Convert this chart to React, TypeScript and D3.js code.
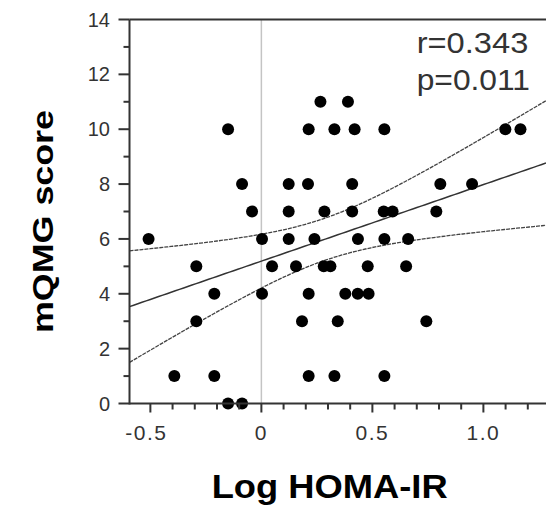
import React from 'react';
import * as d3 from 'd3';

// Log HOMA-IR (x) and mQMG score (y)
const logHoma = [
  0.266, 0.39,
  -0.15, 0.213, 0.329, 0.42, 0.554, 1.099, 1.167,
  -0.087, 0.123, 0.21, 0.409, 0.806, 0.949,
  -0.042, 0.123, 0.284, 0.409, 0.551, 0.591, 0.788,
  -0.508, 0.003, 0.123, 0.239, 0.435, 0.554, 0.661,
  -0.293, 0.048, 0.156, 0.281, 0.311, 0.479, 0.652,
  -0.212, 0.003, 0.213, 0.378, 0.434, 0.483,
  -0.293, 0.183, 0.344, 0.743,
  -0.392, -0.212, 0.213, 0.329, 0.554,
  -0.15, -0.087,
];
const mqmgScore = [
  11, 11,
  10, 10, 10, 10, 10, 10, 10,
  8, 8, 8, 8, 8, 8,
  7, 7, 7, 7, 7, 7, 7,
  6, 6, 6, 6, 6, 6, 6,
  5, 5, 5, 5, 5, 5, 5,
  4, 4, 4, 4, 4, 4,
  3, 3, 3, 3,
  1, 1, 1, 1, 1,
  0, 0,
];
// regression line as drawn in the reference (intercept, slope)
const fitCoefficients = [5.19, 2.79];
const xMajorTicks = [-0.5, 0, 0.5, 1.0];
const xTickLabels = ['-0.5', '0', '0.5', '1.0'];
const xMinorTicks = [-0.5, -0.4, -0.3, -0.2, -0.1, 0, 0.1, 0.2, 0.3, 0.4, 0.5, 0.6, 0.7, 0.8, 0.9, 1.0, 1.1, 1.2];
const yMajorTicks = [0, 2, 4, 6, 8, 10, 12, 14];
const yMinorTicks = [1, 3, 5, 7, 9, 11, 13];
const statLabels = ['r=0.343', 'p=0.011'];
const xTitle = 'Log HOMA-IR';
const yTitle = 'mQMG score';

const W = 546;
const H = 510;
const X0 = 129.5;
const Y0 = 403.5;
const YTOP = 19.5;

export default function App() {
  const x = d3.scaleLinear().domain([-0.594, 1.282]).range([X0, W]);
  const y = d3.scaleLinear().domain([0, 14]).range([Y0, YTOP]);

  // 95% confidence band around the regression line
  const n = logHoma.length;
  const mx = d3.mean(logHoma) as number;
  let sxx = 0;
  for (let i = 0; i < n; i++) sxx += (logHoma[i] - mx) ** 2;
  const [b0, b1] = fitCoefficients;
  const fit = (v: number) => b0 + b1 * v;
  let sse = 0;
  for (let i = 0; i < n; i++) sse += (mqmgScore[i] - fit(logHoma[i])) ** 2;
  const s = Math.sqrt(sse / (n - 2));
  const tcrit = 2.008;
  const half = (v: number) => tcrit * s * Math.sqrt(1 / n + (v - mx) ** 2 / sxx);
  const xs = d3.range(0, 101).map((i) => -0.594 + (i / 100) * (1.282 + 0.594));
  const line = d3.line<[number, number]>().x((d) => x(d[0])).y((d) => y(d[1]));
  const mid = line(xs.map((v) => [v, fit(v)]));
  const upper = line(xs.map((v) => [v, fit(v) + half(v)]));
  const lower = line(xs.map((v) => [v, fit(v) - half(v)]));

  const font = 'Arial, "Liberation Sans", Helvetica, sans-serif';

  return (
    <svg width={W} height={H} style={{ position: 'absolute', left: 0, top: 0 }}>
      <defs>
        <clipPath id="plot">
          <rect x={X0} y={YTOP} width={W - X0} height={Y0 - YTOP} />
        </clipPath>
      </defs>
      <rect width={W} height={H} fill="#fff" />
      {/* zero reference line */}
      <line x1={x(0)} x2={x(0)} y1={YTOP} y2={Y0} stroke="#c4c4c4" strokeWidth={1.5} />
      {/* regression and CI */}
      <g clipPath="url(#plot)" fill="none">
        <path d={upper || ''} stroke="#444" strokeWidth={1.3} strokeDasharray="4,1" />
        <path d={lower || ''} stroke="#444" strokeWidth={1.3} strokeDasharray="4,1" />
        <path d={mid || ''} stroke="#333" strokeWidth={1.5} />
      </g>
      {/* points */}
      <g>
        {logHoma.map((v, i) => (
          <circle key={i} cx={x(v)} cy={y(mqmgScore[i])} r={6} fill="#000" />
        ))}
      </g>
      {/* axes */}
      <g stroke="#333" strokeWidth={2}>
        <line x1={X0} x2={X0} y1={YTOP} y2={Y0 + 1} />
        <line x1={X0} x2={W} y1={Y0} y2={Y0} />
        <line x1={X0} x2={W} y1={YTOP} y2={YTOP} />
        {yMajorTicks.map((t) => (
          <line key={'ym' + t} x1={X0 - 11} x2={X0} y1={y(t)} y2={y(t)} />
        ))}
        {yMinorTicks.map((t) => (
          <line key={'yn' + t} x1={X0 - 6} x2={X0} y1={y(t)} y2={y(t)} />
        ))}
        {xMinorTicks.map((t) => (
          <line key={'xn' + t} x1={x(t)} x2={x(t)} y1={Y0} y2={Y0 + (xMajorTicks.some((m) => Math.abs(m - t) < 1e-9) ? 9 : 6)} />
        ))}
      </g>
      <g fontFamily={font} fontSize={20} fill="#333" textAnchor="end">
        {yMajorTicks.map((t) => (
          <text key={'yl' + t} x={110} y={y(t) + 7}>{t}</text>
        ))}
      </g>
      <g fontFamily={font} fontSize={21} fill="#333" textAnchor="middle" letterSpacing={1.5}>
        {xMajorTicks.map((t, i) => (
          <text key={'xl' + t} x={x(t) - (t < 0 ? 4 : 0)} y={440}>{xTickLabels[i]}</text>
        ))}
      </g>
      <g fontFamily={font} fontSize={30} fill="#333">
        <text x={416.7} y={53.3} textLength={111.6} lengthAdjust="spacingAndGlyphs">{statLabels[0]}</text>
        <text x={416.7} y={89.5} textLength={113.3} lengthAdjust="spacingAndGlyphs">{statLabels[1]}</text>
      </g>
      <text x={211.7} y={498.3} fontFamily={font} fontSize={32.5} fontWeight="bold" fill="#000" textLength={236} lengthAdjust="spacingAndGlyphs">{xTitle}</text>
      <text transform="translate(53.3,333) rotate(-90)" fontFamily={font} fontSize={30} fontWeight="bold" fill="#000" textLength={223} lengthAdjust="spacingAndGlyphs">{yTitle}</text>
    </svg>
  );
}
